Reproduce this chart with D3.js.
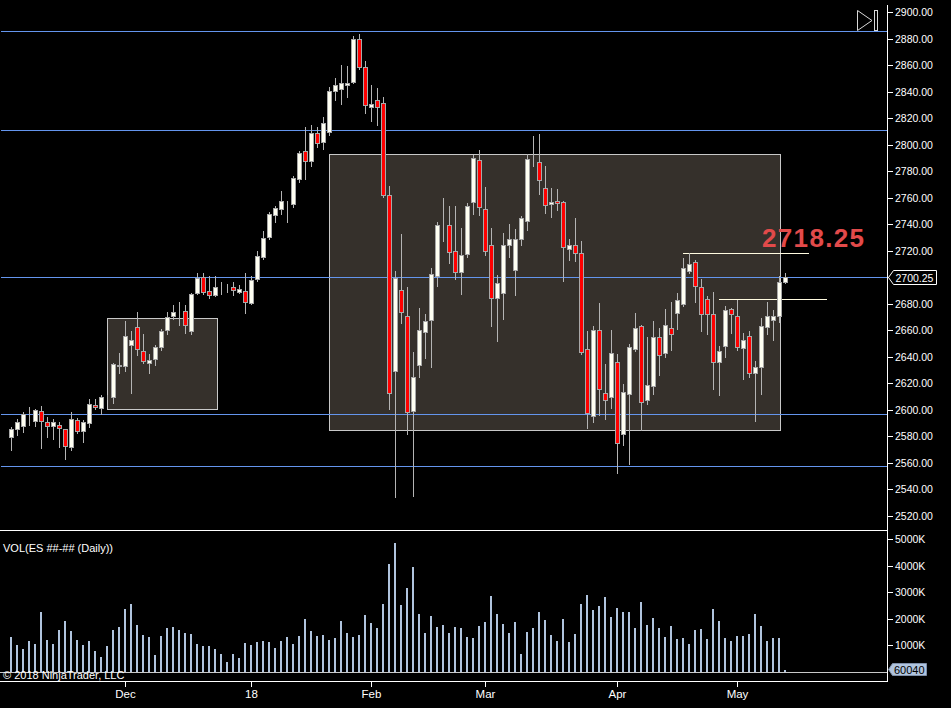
<!DOCTYPE html>
<html>
<head>
<meta charset="utf-8">
<script src="https://cdn.jsdelivr.net/npm/d3@7"></script>
<style>
  html, body { margin: 0; padding: 0; background: #000; }
  svg { display: block; font-family: "Liberation Sans", Arial, sans-serif; }
</style>
</head>
<body>
<div id="chart"></div>
<script>
// ES daily bars, Nov 2017 - May 2018
const opens = [2579.5,2585.5,2588,2595.5,2591.75,2599.5,2590.5,2588,2588.5,2585.25,2572,2592.75,2584,2590.25,2604,2601.5,2609.75,2609.75,2633.25,2633,
  2649.25,2662.75,2644.25,2635,2638.75,2647.5,2660.25,2671,2673.75,2674.5,2659.25,2688.25,2700.5,2690,2686.75,2692,2691.75,2693,2689,2690,
  2680.75,2698.75,2715.25,2730.5,2747,2751.5,2756,2755.5,2774,2795.25,2787.75,2809,2802,2809.75,2840.5,2842,2845.25,2847.25,2880,2858.75,
  2828.75,2834,2831.75,2762.25,2629.5,2690.75,2670.5,2599.5,2633.5,2659,2668,2701.25,2740.25,2739.75,2720,2704.25,2717.75,2757,2788.75,2751.75,
  2724,2684,2688.25,2724.5,2705.75,2729,2742.75,2789.25,2787.25,2767.5,2755.25,2757.75,2757,2721.5,2724,2718.5,2646.25,2595.75,2660,2613,
  2610,2635.75,2581.5,2612.25,2646.25,2663.5,2607.75,2618.25,2655.25,2643.25,2662,2673.25,2679.5,2705,2711.75,2693,2683.25,2672.5,2635.75,2648.5,
  2675.75,2671,2647,2656,2627.5,2632,2662.75,2668,2670.5,2696.75];
const highs = [2587.25,2593.5,2598.5,2602,2601,2602.75,2594.5,2593.5,2590.5,2585.5,2598.25,2594.25,2592.25,2608.5,2608.5,2611,2611,2635.5,2642.75,2666.75,
  2659.25,2673.5,2657,2642,2649.25,2660.75,2673.75,2679,2681,2679,2688.5,2703.5,2703.5,2701.25,2701.25,2696.75,2695.25,2696.75,2694.5,2703.5,
  2701.25,2719.5,2734.75,2749.25,2754,2765.25,2757.75,2776.5,2795.5,2813.5,2815,2813.5,2820.5,2843.75,2850.5,2860.25,2859.5,2881.75,2883.75,2863.25,
  2845.25,2843,2836.25,2768.5,2705,2732.25,2692.75,2643.5,2677,2672.5,2707.25,2742,2760,2753.5,2753.5,2737,2755.75,2792,2795.75,2767.75,
  2737,2701.5,2733,2740,2736.25,2746,2792.75,2806.25,2807.75,2784.25,2767.5,2766.75,2757.25,2729,2744.5,2727,2659.25,2663,2680.5,2634.75,
  2660,2642,2619.25,2650,2673,2664.25,2654.75,2666.75,2661.5,2676,2681,2688,2714.25,2718.25,2713.25,2699,2685.5,2689.25,2648.5,2678,
  2676.5,2682.5,2658,2659.25,2636.5,2669.5,2681.5,2675,2700.75,2703.5];
const lows = [2569.5,2581,2583.5,2588.5,2587.5,2571.25,2579.5,2578,2572,2563,2569.5,2582.5,2575.75,2587.25,2600.5,2597.25,2608.5,2605.25,2628,2629.5,
  2612.75,2641.25,2635.5,2628,2633.5,2645,2657.5,2668.75,2663.75,2658,2657,2687.25,2687.25,2684.5,2686,2687.75,2689,2687,2688.25,2673,
  2680,2697.5,2713.75,2729,2741.75,2747.75,2741.75,2753,2772,2774,2784,2798.25,2796.5,2807.25,2833.75,2830.75,2836,2846.5,2857,2824,
  2818,2814.75,2760.5,2600.75,2534.5,2665.5,2582,2535,2625,2639.25,2632.5,2693.5,2727.5,2710.75,2698.75,2687.5,2715.25,2747.75,2747,2716.75,
  2663.25,2652,2668.5,2715.25,2686.75,2724,2735.75,2784,2762.75,2748.5,2745.5,2751,2697.25,2713,2712.25,2642.5,2586.5,2591,2596.5,2593.25,
  2601.75,2552.5,2573.5,2559.25,2644.5,2585,2604.75,2612.25,2626.5,2640,2645.25,2660.75,2678.5,2703.5,2681.5,2659.5,2657.25,2615.75,2611.25,2640,
  2658,2645.25,2623.5,2624.5,2591.75,2612,2657.5,2653,2666.25,2696];
const closes = [2585.25,2591.25,2597.25,2595.75,2599.75,2592,2587.5,2590.5,2586,2572.75,2593.5,2584,2590.5,2604.75,2602.5,2609.5,2609.75,2634.5,2633.5,2656,
  2652.5,2646.25,2636.5,2637.5,2647.75,2659.25,2669.75,2673.5,2674,2664,2687.75,2699.75,2689,2687,2693,2691.75,2692,2690.75,2691.5,2681.5,
  2698.25,2716.25,2729.25,2748,2752.5,2757.75,2756.25,2775,2794,2788,2809,2801.5,2816.5,2840.75,2845.25,2846.75,2846.75,2880,2858.75,2830.25,
  2831,2828,2762.25,2613,2699.75,2673.5,2598.75,2624.5,2660.5,2667.25,2702.75,2739.75,2740.5,2719.25,2704.25,2717,2754,2790.25,2753.25,2720,
  2684,2696,2724,2729,2728.5,2745,2789.5,2789.5,2773,2754.75,2756.75,2756.25,2723,2724,2718.5,2644,2598,2660,2616,2607.75,
  2643.25,2575.25,2613.75,2647.75,2662,2606.25,2619,2655.25,2641.75,2664.25,2657.5,2682.5,2707.25,2710.25,2693.75,2672,2672,2635.75,2644.75,2675,
  2672,2647.75,2653,2628,2632,2663.5,2670.5,2670.5,2696.75,2700.25];
// volume in thousands of contracts
const volumes = [1328,1015,877,1178,1053,2255,1203,1053,1591,1917,1554,1203,1015,1165,789,576,977,1591,1692,2381,
  2556,1767,1391,1316,639,1353,1654,1692,1591,1466,1428,1053,977,977,865,677,376,677,526,1090,
  1015,1128,1165,1128,902,1165,1316,1053,1353,1992,1541,1353,1391,1203,1278,1917,1466,1316,1391,2143,
  1842,1654,2556,4060,4849,2519,3158,3947,2180,1466,2105,1692,1767,1466,1692,1654,1316,1278,1729,1880,
  2857,2180,1804,1466,1880,677,1504,1654,2255,1955,1391,1165,1992,1128,1428,2556,2894,2331,2481,2819,
  2067,2406,2255,2255,1654,2631,1767,2030,1654,1316,1729,1240,1278,1053,1579,1616,1240,2368,1917,1278,
  1165,1353,1353,1428,2180,1729,1165,1278,1278,60.04];

const monthLabels = ["Dec", "18", "Feb", "Mar", "Apr", "May"];
const monthBars = [19, 40, 60, 79, 101, 121];
const priceTicks = d3.range(2520, 2901, 20);
const volumeTicks = [1000, 2000, 3000, 4000, 5000];

// drawn objects
const levelLines = [2885.5, 2810.75, 2700.25, 2597.25, 2557.5];
const rayPrices = [2718.25, 2683.25];
const rayFrom = [112, 118];
const rayTo = [133, 136];
const boxFrom = [16, 53.05];
const boxTo = [34.3, 128.2];
const boxTop = [2669, 2793.25];
const boxBottom = [2600.25, 2585.25];
const noteText = "2718.25";
const lastVolumeText = "60040";

const W = 951, H = 708;
const axisX = 887;
const COLORS = {
  up: "#fffff2", down: "#ff0000", outline: "#a8a8a8", wick: "#b4b4b4",
  level: "#6495ed", ray: "#fffbe0", box: "#35302b", boxEdge: "#c8c8c8",
  vol: "#b0c4de", axis: "#ffffff", text: "#ffffff", note: "#e24a4a"
};

const n = closes.length;
const x = d3.scaleLinear().domain([0, n - 1]).range([11, 11 + 6 * (n - 1)]);
const y = d3.scaleLinear().domain([2520, 2900]).range([516, 12]);
const yv = d3.scaleLinear().domain([0, 5000]).range([672, 539.3]);
const px = v => Math.round(v) + 0.5;

const svg = d3.select("#chart").append("svg")
  .attr("width", W).attr("height", H)
  .attr("shape-rendering", "crispEdges");

svg.append("rect").attr("width", W).attr("height", H).attr("fill", "#000");

// ---- price pane
const boxes = d3.range(boxFrom.length);
svg.append("g").selectAll("rect").data(boxes).join("rect")
  .attr("x", i => px(x(boxFrom[i])))
  .attr("y", i => px(y(boxTop[i])))
  .attr("width", i => Math.round(x(boxTo[i]) - x(boxFrom[i])))
  .attr("height", i => Math.round(y(boxBottom[i]) - y(boxTop[i])))
  .attr("fill", COLORS.box)
  .attr("stroke", COLORS.boxEdge);

svg.append("g").selectAll("line").data(levelLines).join("line")
  .attr("x1", 1).attr("x2", axisX)
  .attr("y1", d => px(y(d))).attr("y2", d => px(y(d)))
  .attr("stroke", COLORS.level);

svg.append("g").selectAll("line").data(rayPrices).join("line")
  .attr("x1", (d, i) => x(rayFrom[i])).attr("x2", (d, i) => x(rayTo[i]))
  .attr("y1", d => px(y(d))).attr("y2", d => px(y(d)))
  .attr("stroke", COLORS.ray);

const bars = d3.range(n);
const candles = svg.append("g");
candles.selectAll("line").data(bars).join("line")
  .attr("x1", i => x(i) + 0.5).attr("x2", i => x(i) + 0.5)
  .attr("y1", i => Math.round(y(highs[i])))
  .attr("y2", i => Math.round(y(lows[i])) + 1)
  .attr("stroke", COLORS.wick);
candles.selectAll("rect").data(bars).join("rect")
  .attr("x", i => x(i) - 1.5)
  .attr("width", 4)
  .attr("y", i => px(y(Math.max(opens[i], closes[i]))))
  .attr("height", i => Math.round(y(Math.min(opens[i], closes[i]))) - Math.round(y(Math.max(opens[i], closes[i]))))
  .attr("fill", i => closes[i] >= opens[i] ? COLORS.up : COLORS.down)
  .attr("stroke", COLORS.outline);

svg.append("text")
  .attr("x", 762).attr("y", 246.5)
  .attr("fill", COLORS.note)
  .attr("font-size", 26).attr("font-weight", "bold")
  .attr("textLength", 102).attr("lengthAdjust", "spacing")
  .text(noteText);

// pane borders
svg.append("line").attr("x1", 0).attr("x2", axisX).attr("y1", 530.5).attr("y2", 530.5).attr("stroke", COLORS.axis);
svg.append("line").attr("x1", 0).attr("x2", axisX).attr("y1", 681.5).attr("y2", 681.5).attr("stroke", COLORS.axis);
svg.append("line").attr("x1", axisX + 0.5).attr("x2", axisX + 0.5).attr("y1", 5).attr("y2", 682).attr("stroke", COLORS.axis);

// price axis (the label under the last-price marker is hidden, as in the platform)
const lastPrice = closes[n - 1];
const shownTicks = priceTicks.filter(d => Math.abs(y(d) - y(lastPrice)) > 9);
const pAxis = svg.append("g").attr("font-size", 10.5).attr("fill", COLORS.text);
pAxis.selectAll("line").data(priceTicks).join("line")
  .attr("x1", axisX).attr("x2", axisX + 6)
  .attr("y1", d => px(y(d))).attr("y2", d => px(y(d)))
  .attr("stroke", COLORS.axis);
pAxis.selectAll("text").data(shownTicks).join("text")
  .attr("x", axisX + 8).attr("y", d => y(d) + 4)
  .text(d3.format(".2f"));

// last price marker
const lastY = px(y(lastPrice));
const lastG = svg.append("g");
lastG.append("path")
  .attr("d", `M${axisX + 1.5},${lastY} L${axisX + 6.5},${lastY - 7} H936.5 V${lastY + 7} H${axisX + 6.5} Z`)
  .attr("fill", "#000").attr("stroke", COLORS.axis)
  .attr("shape-rendering", "auto");
lastG.append("text")
  .attr("x", axisX + 8.5).attr("y", lastY + 4)
  .attr("font-size", 10.5).attr("fill", COLORS.text)
  .text(d3.format(".2f")(lastPrice));

// top-right scroll icon
svg.append("path")
  .attr("d", "M857.5,10.5 L872,20.5 L857.5,30.5 Z")
  .attr("fill", "none").attr("stroke", "#d8d8d8").attr("shape-rendering", "auto");
svg.append("rect").attr("x", 874.5).attr("y", 10.5).attr("width", 3).attr("height", 20)
  .attr("fill", "none").attr("stroke", "#d8d8d8");

// ---- volume pane
svg.append("line").attr("x1", 0).attr("x2", axisX)
  .attr("y1", px(yv(0))).attr("y2", px(yv(0))).attr("stroke", "#c8c8c8");
svg.append("g").selectAll("rect").data(bars).join("rect")
  .attr("x", i => x(i) - 1)
  .attr("width", 2)
  .attr("y", i => Math.round(yv(volumes[i])))
  .attr("height", i => Math.max(1, Math.round(yv(0)) - Math.round(yv(volumes[i]))))
  .attr("fill", COLORS.vol);

const vAxis = svg.append("g").attr("font-size", 10.5).attr("fill", COLORS.text);
vAxis.selectAll("line").data(volumeTicks).join("line")
  .attr("x1", axisX).attr("x2", axisX + 6)
  .attr("y1", d => px(yv(d))).attr("y2", d => px(yv(d)))
  .attr("stroke", COLORS.axis);
vAxis.selectAll("text").data(volumeTicks).join("text")
  .attr("x", axisX + 8).attr("y", d => yv(d) + 4)
  .text(d => `${d}K`);

const lastV = px(yv(volumes[n - 1])) - 1;
svg.append("path")
  .attr("d", `M${axisX + 1.5},${lastV} L${axisX + 5.5},${lastV - 6} H926.5 V${lastV + 6} H${axisX + 5.5} Z`)
  .attr("fill", COLORS.vol).attr("stroke", "#7f8fa8").attr("shape-rendering", "auto");
svg.append("text")
  .attr("x", axisX + 7).attr("y", lastV + 4)
  .attr("font-size", 11).attr("fill", "#000")
  .text(lastVolumeText);

svg.append("text").attr("x", 3).attr("y", 552)
  .attr("font-size", 11).attr("fill", COLORS.text)
  .text("VOL(ES ##-## (Daily))");
svg.append("text").attr("x", 3).attr("y", 679)
  .attr("font-size", 11).attr("fill", COLORS.text)
  .text("© 2018 NinjaTrader, LLC");

// time axis
const tAxis = svg.append("g").attr("font-size", 11.5).attr("fill", COLORS.text);
tAxis.selectAll("line").data(monthBars).join("line")
  .attr("x1", i => x(i) + 0.5).attr("x2", i => x(i) + 0.5)
  .attr("y1", 681).attr("y2", 687)
  .attr("stroke", COLORS.axis);
tAxis.selectAll("text").data(monthBars).join("text")
  .attr("x", i => x(i) + 0.5).attr("y", 698)
  .attr("text-anchor", "middle")
  .text((d, k) => monthLabels[k]);
</script>
</body>
</html>
